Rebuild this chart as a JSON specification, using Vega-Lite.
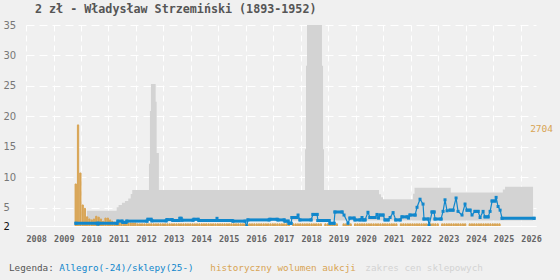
{
 "$schema": "https://vega.github.io/schema/vega-lite/v6.json",
 "width": 510,
 "height": 201,
 "autosize": {"type": "none"},
 "padding": {"left": 26, "top": 25, "right": 24, "bottom": 54},
 "background": "#f0f0f0",
 "title": {"text": "2 zł - Władysław Strzemiński (1893-1952)", "anchor": "start", "frame": "group", "dx": 9, "offset": 4, "font": "DejaVu Sans Mono", "fontSize": 11.7, "fontWeight": "bold", "color": "#555"},
 "datasets": {
  "band": [
   {"d":"2010-03-21","v":4.5,"lo":2.9},{"d":"2011-04-20","v":5.07,"lo":2.9},{"d":"2011-05-15","v":5.45,"lo":2.9},{"d":"2011-06-29","v":5.8,"lo":2.9},{"d":"2011-08-08","v":6.1,"lo":2.9},{"d":"2011-09-21","v":6.5,"lo":2.9},{"d":"2011-10-23","v":7.25,"lo":2.9},{"d":"2011-11-13","v":7.9,"lo":2.9},
   {"d":"2012-06-22","v":12.2,"lo":2.9},{"d":"2012-07-05","v":20.9,"lo":2.9},{"d":"2012-07-18","v":25.3,"lo":2.9},{"d":"2012-09-19","v":22.4,"lo":2.9},{"d":"2012-10-02","v":14,"lo":2.9},{"d":"2012-11-01","v":7.9,"lo":2.9},
   {"d":"2018-02-25","v":14.6,"lo":2.9},{"d":"2018-03-10","v":28.3,"lo":2.9},{"d":"2018-03-23","v":35,"lo":2.9},{"d":"2018-10-08","v":28.3,"lo":2.9},{"d":"2018-10-22","v":14.6,"lo":2.9},{"d":"2018-11-04","v":7.9,"lo":2.9},
   {"d":"2020-11-04","v":7.2,"lo":2.9},{"d":"2020-12-01","v":6.7,"lo":2.9},{"d":"2020-12-27","v":6.4,"lo":2.9},{"d":"2022-01-30","v":7.3,"lo":2.9},{"d":"2022-02-19","v":8.3,"lo":2.9},{"d":"2023-06-15","v":7.5,"lo":2.9},{"d":"2025-05-07","v":8.0,"lo":2.9},{"d":"2025-06-06","v":8.45,"lo":2.9},{"d":"2026-06-13","v":8.45,"lo":2.9}
  ],
  "vol": [
   {"d":"2009-10","v":8.9},{"d":"2009-11","v":18.6},{"d":"2009-12","v":10.7},{"d":"2010-01","v":5.45},{"d":"2010-02","v":4.9},{"d":"2010-03","v":3.5},{"d":"2010-04","v":3.15},{"d":"2010-05","v":3.0},{"d":"2010-06","v":3.15},{"d":"2010-07","v":3.6},{"d":"2010-08","v":3.45},{"d":"2010-09","v":3.15},{"d":"2010-10","v":2.8},{"d":"2010-11","v":3.3},{"d":"2010-12","v":3.3},
   {"d":"2011-01","v":3.0},{"d":"2011-02","v":2.8},{"d":"2011-03","v":2.65},{"d":"2011-04","v":2.5},{"d":"2011-05","v":2.5},{"d":"2011-06","v":2.5},{"d":"2011-07","v":2.5},{"d":"2011-08","v":2.5},{"d":"2011-09","v":2.5},{"d":"2011-10","v":2.5},{"d":"2011-11","v":2.5},{"d":"2011-12","v":2.5},
   {"d":"2012-01","v":2.35},{"d":"2012-02","v":2.35},{"d":"2012-03","v":2.35},{"d":"2012-04","v":2.35},{"d":"2012-05","v":2.35},{"d":"2012-06","v":2.35},{"d":"2012-07","v":2.35},{"d":"2012-08","v":2.35},{"d":"2012-09","v":2.35},{"d":"2012-10","v":2.35},{"d":"2012-11","v":2.35},{"d":"2012-12","v":2.35},
   {"d":"2013-01","v":2.35},{"d":"2013-02","v":2.35},{"d":"2013-03","v":2.35},{"d":"2013-04","v":2.35},{"d":"2013-05","v":2.35},{"d":"2013-06","v":2.35},{"d":"2013-07","v":2.35},{"d":"2013-08","v":2.35},{"d":"2013-09","v":2.35},{"d":"2013-10","v":2.35},{"d":"2013-11","v":2.35},{"d":"2013-12","v":2.35},
   {"d":"2014-01","v":2.35},{"d":"2014-02","v":2.35},{"d":"2014-03","v":2.35},{"d":"2014-04","v":2.35},{"d":"2014-05","v":2.35},{"d":"2014-06","v":2.35},{"d":"2014-07","v":2.35},{"d":"2014-08","v":2.35},{"d":"2014-09","v":2.35},{"d":"2014-10","v":2.35},{"d":"2014-11","v":2.35},{"d":"2014-12","v":2.35},
   {"d":"2015-01","v":2.35},{"d":"2015-02","v":2.35},{"d":"2015-03","v":2.35},{"d":"2015-04","v":2.35},{"d":"2015-05","v":2.35},{"d":"2015-06","v":2.35},{"d":"2015-07","v":2.35},{"d":"2015-08","v":2.35},{"d":"2015-09","v":2.35},{"d":"2015-10","v":2.35},{"d":"2015-11","v":2.35},{"d":"2015-12","v":2.35},
   {"d":"2016-01","v":2.35},{"d":"2016-02","v":2.35},{"d":"2016-03","v":2.35},{"d":"2016-04","v":2.35},{"d":"2016-05","v":2.35},{"d":"2016-06","v":2.35},{"d":"2016-07","v":2.35},{"d":"2016-08","v":2.35},{"d":"2016-09","v":2.35},{"d":"2016-10","v":2.35},{"d":"2016-11","v":2.35},{"d":"2016-12","v":2.35},
   {"d":"2017-01","v":2.35},{"d":"2017-02","v":2.35},{"d":"2017-03","v":2.35},{"d":"2017-04","v":2.35},{"d":"2017-05","v":2.35},{"d":"2017-06","v":2.35},{"d":"2017-07","v":2.35},{"d":"2017-09","v":2.35},{"d":"2017-10","v":2.35},{"d":"2017-11","v":2.35},{"d":"2017-12","v":2.35},
   {"d":"2018-01","v":2.35},{"d":"2018-02","v":2.35},{"d":"2018-03","v":2.35},{"d":"2018-04","v":2.35},{"d":"2018-05","v":2.35},{"d":"2018-06","v":2.35},{"d":"2018-07","v":2.35},{"d":"2018-08","v":2.35},{"d":"2018-09","v":2.35},{"d":"2018-11","v":2.35},{"d":"2018-12","v":2.35},
   {"d":"2019-01","v":2.35},{"d":"2019-02","v":2.35},{"d":"2019-03","v":2.35},{"d":"2019-04","v":2.35},{"d":"2019-07","v":2.35},{"d":"2019-08","v":2.35},{"d":"2019-09","v":2.35},{"d":"2019-10","v":2.35},{"d":"2019-12","v":2.35},
   {"d":"2020-01","v":2.35},{"d":"2020-02","v":2.35},{"d":"2020-03","v":2.35},{"d":"2020-04","v":2.35},{"d":"2020-05","v":2.35},{"d":"2020-06","v":2.35},{"d":"2020-07","v":2.35},{"d":"2020-08","v":2.35},{"d":"2020-09","v":2.35},{"d":"2020-10","v":2.35},{"d":"2020-11","v":2.35},{"d":"2020-12","v":2.35},
   {"d":"2021-01","v":2.35},{"d":"2021-02","v":2.35},{"d":"2021-03","v":2.35},{"d":"2021-04","v":2.35},{"d":"2021-05","v":2.35},{"d":"2021-06","v":2.35},{"d":"2021-08","v":2.35},{"d":"2021-09","v":2.35},{"d":"2021-10","v":2.35},{"d":"2021-11","v":2.35},{"d":"2021-12","v":2.35},
   {"d":"2022-01","v":2.35},{"d":"2022-02","v":2.35},{"d":"2022-03","v":2.35},{"d":"2022-04","v":2.35},{"d":"2022-05","v":2.35},{"d":"2022-06","v":2.35},{"d":"2022-07","v":2.35},{"d":"2022-08","v":2.35},{"d":"2022-09","v":2.35},{"d":"2022-10","v":2.35},{"d":"2022-11","v":2.35},{"d":"2022-12","v":2.35},
   {"d":"2023-02","v":2.35},{"d":"2023-03","v":2.35},{"d":"2023-04","v":2.35},{"d":"2023-05","v":2.35},{"d":"2023-06","v":2.35},{"d":"2023-07","v":2.35},{"d":"2023-08","v":2.35},{"d":"2023-09","v":2.35},{"d":"2023-10","v":2.35},{"d":"2023-11","v":2.35},{"d":"2023-12","v":2.35},
   {"d":"2024-02","v":2.35},{"d":"2024-03","v":2.35},{"d":"2024-04","v":2.35},{"d":"2024-05","v":2.35},{"d":"2024-06","v":2.35},{"d":"2024-07","v":2.35},{"d":"2024-08","v":2.35},{"d":"2024-09","v":2.35},{"d":"2024-10","v":2.35},{"d":"2024-11","v":2.35},{"d":"2024-12","v":2.35},
   {"d":"2025-01","v":2.35},{"d":"2025-02","v":2.35},{"d":"2025-03","v":2.35}
  ],
  "pts": [
   {"d":"2009-10-26","v":2.45},{"d":"2010-08-01","v":2.45},{"d":"2010-08-14","v":2.3},{"d":"2010-08-27","v":2.45},{"d":"2011-04-24","v":2.45},{"d":"2011-05-07","v":2.8},{"d":"2011-06-29","v":2.8},{"d":"2011-07-12","v":2.6},{"d":"2011-08-21","v":2.6},{"d":"2011-09-03","v":2.8},{"d":"2012-05-26","v":2.8},{"d":"2012-06-09","v":3.1},{"d":"2012-07-19","v":3.1},{"d":"2012-08-01","v":2.85},{"d":"2013-02-04","v":2.85},{"d":"2013-02-17","v":3.05},{"d":"2013-04-24","v":3.05},{"d":"2013-05-07","v":2.9},{"d":"2013-07-26","v":2.9},{"d":"2013-08-08","v":3.26},{"d":"2013-08-22","v":3.26},{"d":"2013-09-04","v":2.95},{"d":"2014-01-28","v":2.95},{"d":"2014-02-11","v":3.1},{"d":"2014-04-05","v":3.1},{"d":"2014-04-18","v":2.9},{"d":"2014-11-30","v":2.9},{"d":"2014-12-13","v":3.26},{"d":"2014-12-26","v":2.9},{"d":"2015-06-30","v":2.9},{"d":"2015-07-14","v":2.8},{"d":"2015-12-20","v":2.8},{"d":"2016-01-12","v":1.9},{"d":"2016-01-29","v":3.0},{"d":"2016-11-03","v":3.0},{"d":"2016-11-16","v":3.1},{"d":"2017-02-18","v":3.1},{"d":"2017-03-03","v":3.0},{"d":"2017-05-22","v":3.0},{"d":"2017-06-04","v":2.8},{"d":"2017-07-14","v":2.8},{"d":"2017-07-27","v":2.45},{"d":"2017-08-23","v":2.45},{"d":"2017-09-05","v":3.4},{"d":"2017-11-11","v":3.4},{"d":"2017-11-24","v":3.8},{"d":"2017-12-20","v":3.0},{"d":"2018-05-15","v":3.0},{"d":"2018-06-11","v":3.9},{"d":"2018-08-03","v":3.9},{"d":"2018-08-16","v":2.9},{"d":"2019-01-10","v":2.9},{"d":"2019-01-23","v":2.45},{"d":"2019-03-17","v":2.45},{"d":"2019-03-30","v":4.3},{"d":"2019-07-01","v":4.3},{"d":"2019-07-28","v":3.8},{"d":"2019-09-19","v":2.45},{"d":"2019-10-15","v":3.3},{"d":"2019-12-08","v":3.3},{"d":"2019-12-21","v":3.0},{"d":"2020-02-25","v":3.0},{"d":"2020-03-23","v":3.4},{"d":"2020-04-05","v":3.0},{"d":"2020-05-02","v":3.0},{"d":"2020-06-10","v":4.25},{"d":"2020-07-07","v":3.4},{"d":"2020-09-12","v":3.4},{"d":"2020-10-08","v":3.9},{"d":"2020-10-28","v":3.3},{"d":"2020-11-17","v":3.8},{"d":"2020-12-27","v":3.8},{"d":"2021-01-23","v":3.0},{"d":"2021-03-04","v":3.0},{"d":"2021-03-31","v":3.4},{"d":"2021-05-10","v":4.2},{"d":"2021-06-15","v":3.0},{"d":"2021-08-11","v":3.0},{"d":"2021-09-06","v":3.5},{"d":"2021-11-12","v":3.5},{"d":"2021-12-01","v":3.3},{"d":"2021-12-21","v":3.8},{"d":"2022-02-26","v":3.8},{"d":"2022-03-24","v":5.07},{"d":"2022-05-03","v":6.4},{"d":"2022-06-12","v":5.6},{"d":"2022-06-25","v":3.15},{"d":"2022-08-18","v":3.15},{"d":"2022-08-31","v":2.1},{"d":"2022-10-10","v":4.3},{"d":"2022-11-05","v":4.3},{"d":"2022-11-19","v":3.15},{"d":"2023-02-06","v":3.15},{"d":"2023-03-05","v":4.4},{"d":"2023-03-31","v":6.3},{"d":"2023-04-27","v":4.5},{"d":"2023-06-06","v":4.6},{"d":"2023-07-15","v":4.6},{"d":"2023-08-25","v":6.6},{"d":"2023-09-20","v":4.4},{"d":"2023-11-12","v":3.8},{"d":"2023-12-22","v":5.6},{"d":"2024-01-18","v":4.6},{"d":"2024-02-26","v":4.6},{"d":"2024-03-24","v":3.8},{"d":"2024-05-03","v":4.4},{"d":"2024-06-12","v":4.4},{"d":"2024-07-09","v":3.4},{"d":"2024-08-18","v":4.4},{"d":"2024-09-13","v":3.5},{"d":"2024-10-23","v":3.5},{"d":"2024-11-19","v":4.4},{"d":"2024-12-16","v":6.1},{"d":"2025-01-24","v":6.1},{"d":"2025-02-07","v":6.7},{"d":"2025-03-05","v":5.2},{"d":"2025-04-01","v":4.6},{"d":"2025-04-28","v":3.26},{"d":"2026-06-26","v":3.26}
  ],
  "note": [{"d":"2026-05-05","v":17.9,"t":"2704"}]
 },
 "encoding": {
  "x": {"field": "d", "type": "temporal", "title": null,
   "scale": {"type": "utc", "domain": [{"year": 2008, "month": 1, "date": 1, "utc": true}, {"year": 2026, "month": 7, "date": 22, "utc": true}]},
   "axis": {"format": "%Y", "tickCount": {"interval": "year", "step": 1}, "labelAlign": "left", "labelPadding": 8, "labelFont": "DejaVu Sans Mono", "labelFontSize": 8.5, "labelFontWeight": "bold", "labelColor": "#666", "labelFlush": false, "labelOverlap": false, "labelBound": false, "ticks": false, "grid": true, "gridColor": "#ffffff", "gridDash": [6, 4], "gridWidth": 1, "domain": true, "domainColor": "#ffffff", "domainWidth": 1}},
  "y": {"field": "v", "type": "quantitative", "title": null,
   "scale": {"domain": [2, 35], "zero": false, "nice": false},
   "axis": {"values": [2, 5, 10, 15, 20, 25, 30, 35], "labelAlign": "left", "labelPadding": 23, "ticks": false, "domain": false, "grid": true, "gridColor": "#ffffff", "gridDash": [8, 5], "gridWidth": 1, "labelFont": "DejaVu Sans", "labelFontSize": 10, "labelColor": {"condition": {"test": "datum.value == 2", "value": "#111"}, "value": "#777"}}}
 },
 "layer": [
  {"data": {"name": "band"}, "mark": {"type": "area", "interpolate": "step-after", "clip": true},
   "encoding": {"y2": {"field": "lo"}, "color": {"datum": "zakres cen sklepowych"}}},
  {"data": {"name": "vol"}, "mark": {"type": "bar", "clip": true, "stroke": "#d8a454", "strokeWidth": 1},
   "encoding": {"x": {"field": "d", "timeUnit": "utcyearmonth", "type": "temporal", "title": null}, "y2": {"datum": 2}, "color": {"datum": "historyczny wolumen aukcji"}}},
  {"data": {"name": "pts"}, "mark": {"type": "line", "strokeWidth": 1.2, "clip": true},
   "encoding": {"color": {"datum": "Allegro(-24)/sklepy(25-)",
     "scale": {"domain": ["Allegro(-24)/sklepy(25-)", "historyczny wolumen aukcji", "zakres cen sklepowych"], "range": ["#1187cc", "#d8a454", "#d3d3d3"]},
     "legend": {"orient": "none", "legendX": -17, "legendY": 238, "direction": "horizontal", "title": "Legenda:", "titleOrient": "left", "titleFont": "DejaVu Sans Mono", "titleFontSize": 9.3, "titleFontWeight": "normal", "titleColor": "#555", "titlePadding": -4, "labelFont": "DejaVu Sans Mono", "labelFontSize": 9.3, "labelLimit": 0, "symbolSize": 0, "symbolStrokeWidth": 0, "symbolOpacity": 0, "labelOffset": 0, "columnPadding": -1, "padding": 0,
       "labelExpr": "datum.label == 'Allegro(-24)/sklepy(25-)' ? datum.label + '\u2800' : datum.label",
       "encode": {"labels": {"update": {"fill": {"scale": "color", "field": "value"}}}}}}}},
  {"data": {"name": "pts"},
   "transform": [{"window": [{"op": "lead", "field": "d", "as": "dn"}, {"op": "lead", "field": "v", "as": "vn"}], "sort": [{"field": "d"}]}, {"filter": "datum.vn == datum.v"}],
   "mark": {"type": "rule", "strokeWidth": 3, "strokeCap": "square", "clip": true},
   "encoding": {"x2": {"field": "dn"}, "color": {"datum": "Allegro(-24)/sklepy(25-)"}}},
  {"data": {"name": "pts"}, "mark": {"type": "square", "size": 9, "opacity": 1, "clip": true},
   "encoding": {"color": {"datum": "Allegro(-24)/sklepy(25-)"}}},
  {"data": {"name": "note"}, "mark": {"type": "text", "align": "left", "baseline": "middle", "font": "DejaVu Sans Mono", "fontSize": 9.5, "color": "#d8a454"},
   "encoding": {"text": {"field": "t"}}}
 ],
 "config": {"view": {"stroke": null}}
}
